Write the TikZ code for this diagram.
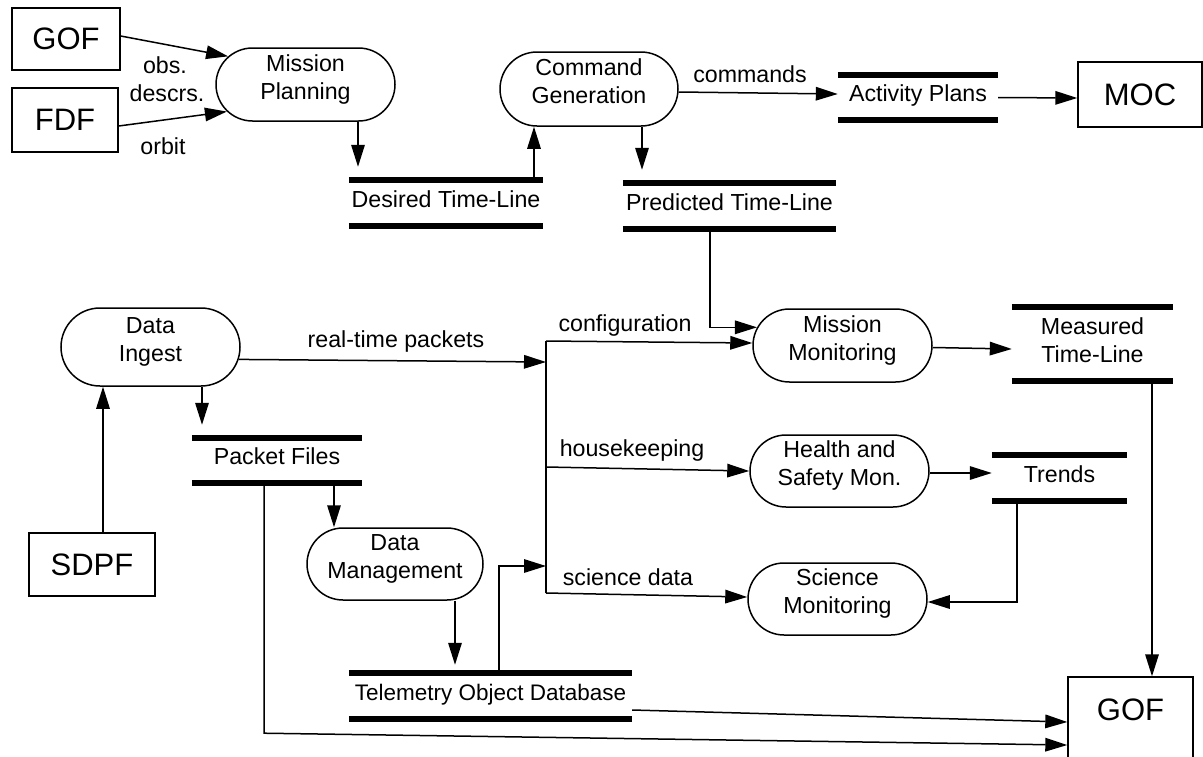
\documentclass[tikz,border=0pt]{standalone}
\usepackage{fontspec}
\setmainfont{Liberation Sans}
\usetikzlibrary{shapes.misc,arrows.meta}
\newcommand\twol[3][5pt]{\raisebox{#1}[\height][\depth]{\begin{tabular}{@{}c@{}}#2\\#3\end{tabular}}}
\begin{document}
\begin{tikzpicture}[x=1pt,y=-1pt,
  every node/.style={font=\fontsize{23.2}{28}\selectfont, inner sep=0pt},
  proc/.style={rounded rectangle, draw, line width=1.5pt, minimum width=179pt, minimum height=73pt},
  ext/.style={draw, line width=1.4pt, font=\fontsize{31}{36}\selectfont},
  store/.style={minimum height=46pt},
  sone/.style={text height=16pt, text depth=8pt},
  bar/.style={line width=5.5pt},
  ln/.style={line width=1.5pt},
  arr/.style={line width=1.5pt, -{Triangle[length=22pt,width=13.5pt]}}
]
\useasboundingbox (0,0) rectangle (1203,756);
\fill[white] (0,0) rectangle (1203,756);
\clip (0,0) rectangle (1203,756);

% external entities
\node[ext, minimum width=108pt, minimum height=62pt] (GOFa) at (66,39) {GOF};
\node[ext, minimum width=106pt, minimum height=64pt] (FDF) at (65,120) {FDF};
\node[ext, minimum width=124pt, minimum height=65pt] (MOC) at (1140,94.5) {MOC};
\node[ext, minimum width=126pt, minimum height=63pt] (SDPF) at (92,564.5) {SDPF};
\node[ext, minimum width=125pt, minimum height=93pt, text depth=27pt] (GOFb) at (1130.5,723.5) {GOF};

% processes
\node[proc] (MP) at (305.5,84.5) {\twol{Mission}{Planning}};
\node[proc, minimum width=178pt, minimum height=74pt] (CG) at (589,89) {\twol{Command}{Generation}};
\node[proc, minimum height=78pt] (DI) at (150.5,347) {\twol{Data}{Ingest}};
\node[proc, minimum width=176pt, minimum height=72pt] (DM) at (395,564) {\twol{Data}{Management}};
\node[proc] (MM) at (842.5,345.5) {\twol{Mission}{Monitoring}};
\node[proc, minimum height=72pt] (HS) at (839.5,471) {\twol{Health and}{Safety Mon.}};
\node[proc, minimum height=72pt] (SM) at (837.5,599) {\twol{Science}{Monitoring}};

% data stores
\node[store, sone, minimum width=194pt] (DTL) at (446,203) {Desired Time-Line};
\node[store, sone, minimum width=213pt] (PTL) at (729.5,206) {Predicted Time-Line};
\node[store, sone, minimum width=160pt, minimum height=45pt] (AP) at (918,97.5) {Activity Plans};
\node[store, minimum width=161pt, minimum height=74pt] (MTL) at (1092.5,344) {\twol[1pt]{Measured}{Time-Line}};
\node[store, sone, minimum width=170pt, minimum height=45pt] (PF) at (277,460.5) {Packet Files};
\node[store, sone, minimum width=283pt, font=\fontsize{22.5}{28}\selectfont] (TOD) at (490.5,696) {Telemetry Object Database};
\node[store, sone, minimum width=135pt] (TR) at (1059.5,478) {Trends};
\foreach \s in {DTL,PTL,AP,MTL,PF,TOD,TR} {
  \draw[bar] (\s.north west) -- (\s.north east);
  \draw[bar] (\s.south west) -- (\s.south east);
}

% bus
\coordinate (bT) at (546,341);
\coordinate (bRT) at (546,362);
\coordinate (bHK) at (546,467);
\coordinate (bTD) at (546,566);
\coordinate (bB) at (546,593);
\draw[ln] (bT) -- (bB);

% connectors
\draw[arr] ([yshift=3pt]GOFa.east) -- (MP.160);
\draw[arr] ([yshift=-6pt]FDF.east) -- (MP.199);
\draw[arr] ([xshift=52.5pt]MP.south) -- ([xshift=-88pt,yshift=13pt]DTL.north);
\draw[arr] ([xshift=88pt]DTL.north) -- ([xshift=-55pt]CG.south);
\draw[arr] ([xshift=53pt]CG.south) -- ([xshift=-87.5pt,yshift=13pt]PTL.north);
\draw[arr] ([yshift=-3pt]CG.east) -- ([yshift=3.5pt]AP.west);
\draw[arr] (AP.east) -- ([yshift=-3.5pt]MOC.west);
\draw[arr] ([xshift=-19.5pt]PTL.south) |- (MM.168);
\draw[arr] (DI.-8) -- (bRT);
\draw[arr] (bT) -- ([yshift=2.5pt]MM.west);
\draw[arr] (bHK) -- (HS.west);
\draw[arr] (bB) -- ([yshift=2pt]SM.west);
\draw[arr] ([yshift=-2pt]MM.east) -- ([yshift=-5pt]MTL.west);
\draw[arr] ([xshift=59.5pt]MTL.south) -- ([xshift=21.5pt]GOFb.north);
\draw[arr] ([yshift=-2pt]HS.east) -- ([yshift=5pt]TR.west);
\draw[arr] ([xshift=-42.5pt]TR.south) |- ([yshift=-3pt]SM.east);
\draw[arr] ([xshift=11pt]SDPF.north) -- ([xshift=-47.5pt]DI.south);
\draw[arr] ([xshift=51.5pt]DI.south) -- ([xshift=-75pt,yshift=13pt]PF.north);
\draw[arr] ([xshift=57pt]PF.south) -- ([xshift=-61pt]DM.north);
\draw[arr] ([xshift=-13pt]PF.south) -- ++(0,250) -- ([yshift=-21.5pt]GOFb.west);
\draw[arr] ([xshift=60pt]DM.south) -- ([xshift=-35.5pt,yshift=8pt]TOD.north);
\draw[arr] ([xshift=8.5pt]TOD.north) |- (bTD);
\draw[arr] ([yshift=-14pt]TOD.east) -- ([yshift=1.5pt]GOFb.west);

% labels
\node (lobs) at (165,65) {obs.};
\node (ldes) at (167,93) {descrs.};
\node (lorb) at (163,146) {orbit};
\node (lcmd) at (750,74) {commands};
\node (lrtp) at (396,341) {real-time packets};
\node (lcfg) at (625,325) {configuration};
\node (lhk) at (632,450) {housekeeping};
\node (lsci) at (628,577) {science data};
\end{tikzpicture}
\end{document}
